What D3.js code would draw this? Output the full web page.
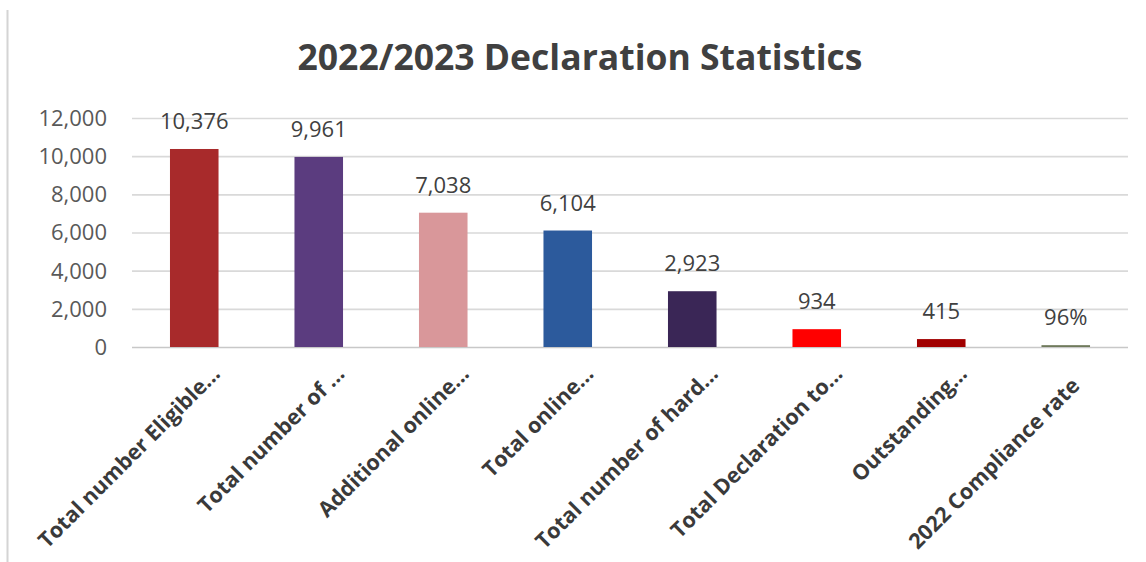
<!DOCTYPE html>
<html>
<head>
<meta charset="utf-8">
<script src="https://cdn.jsdelivr.net/npm/d3@7"></script>
<style>
  html, body { margin: 0; padding: 0; background: #ffffff; }
  svg { display: block; }
</style>
</head>
<body>
<svg id="chart" width="1146" height="562"></svg>
<script>
// Declaration statistics for the 2022/2023 cycle
const categories = [
  "Total number Eligible...",
  "Total number of ...",
  "Additional online...",
  "Total online...",
  "Total number of hard...",
  "Total Declaration to...",
  "Outstanding...",
  "2022 Compliance rate"
];
const values = [10376, 9961, 7038, 6104, 2923, 934, 415, 96];
const valueLabels = ["10,376", "9,961", "7,038", "6,104", "2,923", "934", "415", "96%"];
const barColors = ["#A82A2B", "#5B3C7F", "#D9979A", "#2C5A9C", "#3A2656", "#FF0000", "#A10000", "#6F7A5B"];
const yTicks = [0, 2000, 4000, 6000, 8000, 10000, 12000];
const chartTitle = "2022/2023 Declaration Statistics";

const svg = d3.select("#chart");
const W = 1146, H = 562;
const plot = { left: 132, right: 1128, top: 118, bottom: 347 };

// frame edge on the left
svg.append("line")
  .attr("x1", 7.5).attr("x2", 7.5).attr("y1", 10).attr("y2", H)
  .attr("stroke", "#d4d4d4").attr("stroke-width", 2);

const x = d3.scaleBand()
  .domain(categories)
  .range([plot.left, plot.right])
  .paddingInner(0.61)
  .paddingOuter(0.305);

const y = d3.scaleLinear()
  .domain([0, 12000])
  .range([plot.bottom, plot.top]);

// title
svg.append("text")
  .attr("x", 580).attr("y", 70)
  .attr("text-anchor", "middle")
  .attr("font-family", "'Open Sans', sans-serif")
  .attr("font-weight", 700)
  .attr("font-size", 35)
  .attr("fill", "#404040")
  .attr("textLength", 565)
  .attr("lengthAdjust", "spacingAndGlyphs")
  .text(chartTitle);

// horizontal gridlines + value axis labels
const yAxis = d3.axisLeft(y)
  .tickValues(yTicks)
  .tickSize(-(plot.right - plot.left))
  .tickPadding(25)
  .tickFormat(d3.format(","));

const gy = svg.append("g")
  .attr("transform", `translate(${plot.left},0)`)
  .call(yAxis);
gy.select(".domain").remove();
gy.selectAll(".tick line")
  .attr("stroke", d => d === 0 ? "#c8c8c8" : "#d9d9d9")
  .attr("stroke-width", 1.6);
gy.selectAll(".tick text")
  .attr("font-family", "'Open Sans', sans-serif")
  .attr("font-size", 22)
  .attr("fill", "#595959")
  .attr("dy", "0.34em");

// bars
svg.append("g").selectAll("rect")
  .data(values)
  .join("rect")
  .attr("x", (d, i) => x(categories[i]))
  .attr("width", x.bandwidth())
  .attr("y", d => y(d))
  .attr("height", d => y(0) - y(d))
  .attr("fill", (d, i) => barColors[i]);

// value labels above bars
svg.append("g").selectAll("text")
  .data(values)
  .join("text")
  .attr("x", (d, i) => x(categories[i]) + x.bandwidth() / 2)
  .attr("y", d => y(d) - 20)
  .attr("text-anchor", "middle")
  .attr("font-family", "'Open Sans', sans-serif")
  .attr("font-size", 22)
  .attr("fill", "#404040")
  .text((d, i) => valueLabels[i]);

// rotated category labels
const gx = svg.append("g");
gx.selectAll("text")
  .data(categories)
  .join("text")
  .attr("transform", d => {
    const cx = x(d) + x.bandwidth() / 2;
    const shifted = d.endsWith("...") ? 0 : 1;
    const ax = cx + 18 - shifted * 12;
    const ay = 366 + shifted * 12;
    return `translate(${ax},${ay}) rotate(-45)`;
  })
  .attr("text-anchor", "end")
  .attr("dy", "0.6em")
  .attr("font-family", "'Open Sans', sans-serif")
  .attr("font-weight", 700)
  .attr("font-size", 21.5)
  .attr("fill", "#3a3a3a")
  .text(d => d);
</script>
</body>
</html>
